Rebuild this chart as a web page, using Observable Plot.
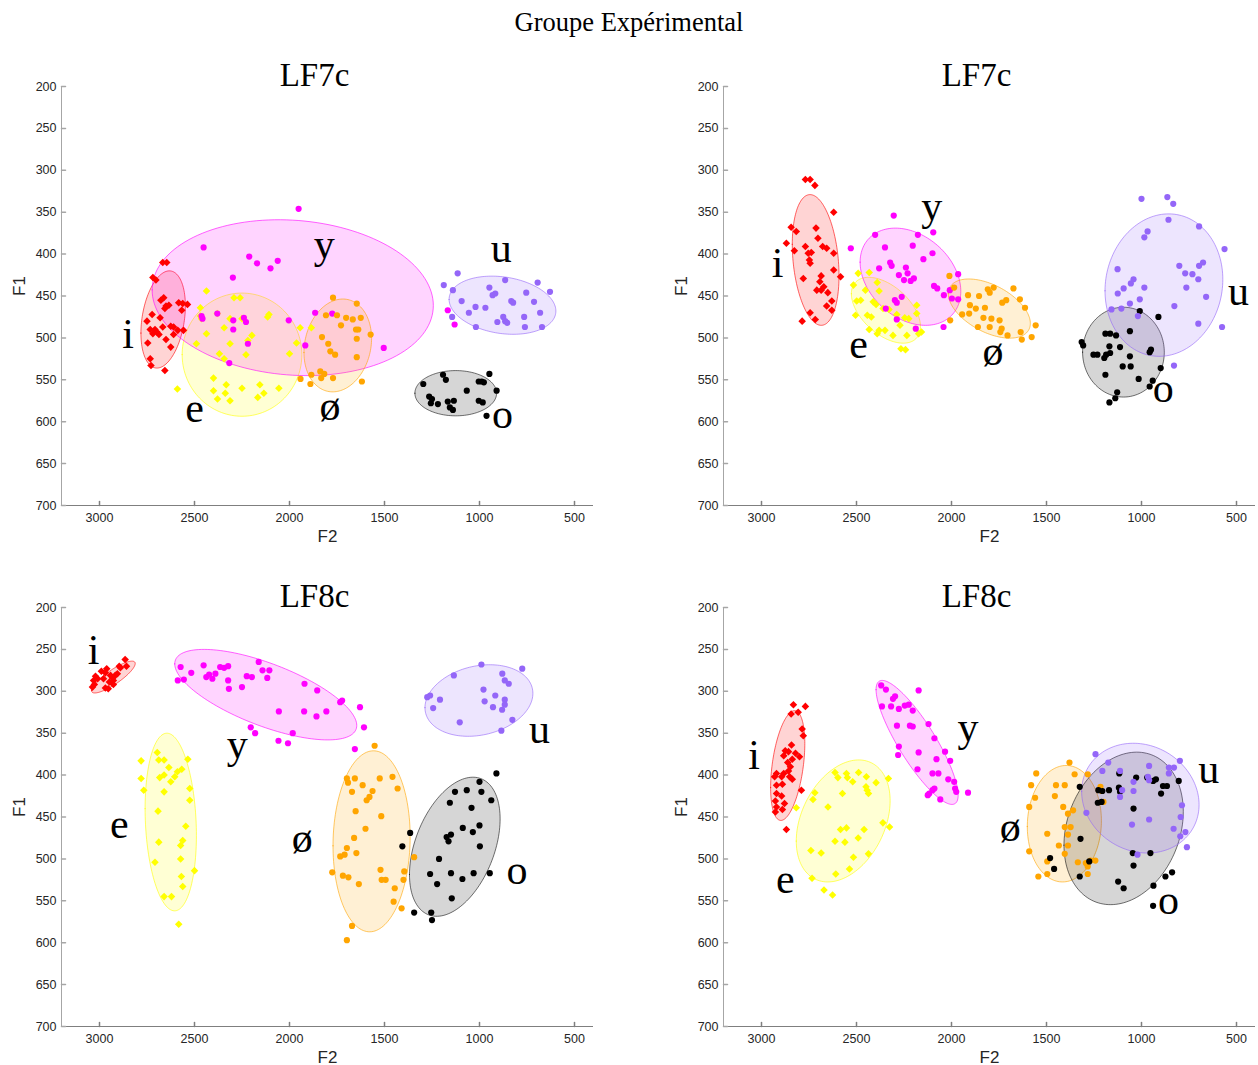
<!DOCTYPE html>
<html><head><meta charset="utf-8">
<script src="https://cdn.jsdelivr.net/npm/d3@7"></script>
<script src="https://cdn.jsdelivr.net/npm/@observablehq/plot@0.6"></script>
<style>
body{margin:0;background:#fff;width:1258px;height:1065px;overflow:hidden;position:relative;}
#title{position:absolute;left:0;width:1258px;top:9px;text-align:center;font-family:"Liberation Serif","Times New Roman",serif;font-size:26.5px;line-height:26px;color:#000;}
.panel{position:absolute;}
</style></head><body>
<div id="title">Groupe Expérimental</div>
<div class="panel" id="p1" style="left:0px;top:56px"></div>
<div class="panel" id="p2" style="left:662px;top:56px"></div>
<div class="panel" id="p3" style="left:0px;top:577px"></div>
<div class="panel" id="p4" style="left:662px;top:577px"></div>
<script>
// ---------- categories / styles ----------
const vowels = ["i", "e", "y", "ø", "o", "u"];
const vowelColors = ["#ff0000", "#ffff00", "#ff00ff", "#ffa500", "#000000", "#9466f8"];
const xTicks = [3000, 2500, 2000, 1500, 1000, 500];
const yTicks = [200, 250, 300, 350, 400, 450, 500, 550, 600, 650, 700];
const panelTitles = ["LF7c", "LF7c", "LF8c", "LF8c"];

// ---------- Panel 1 (LF7c, left) : [F2, F1] ----------
const p1_i = [[2719,428],[2703,431],[2667,410],[2646,410],[2677,455],[2662,452],[2650,462],[2635,461],[2656,465],[2583,458],[2562,459],[2537,460],[2567,467],[2723,472],[2681,476],[2750,480],[2625,486],[2610,487],[2667,487],[2698,493],[2719,495],[2733,490],[2746,506],[2708,490],[2687,496],[2650,502],[2588,491],[2558,491],[2610,496],[2625,511],[2733,525],[2729,533],[2656,539]];
const p1_e = [[2437,444],[2469,464],[2469,474],[2463,477],[2490,507],[2437,495],[2380,471],[2344,488],[2313,507],[2292,452],[2260,452],[2313,477],[2250,477],[2219,503],[2198,497],[2229,520],[2115,475],[2108,472],[1963,506],[2000,519],[2369,519],[2344,525],[2400,548],[2333,556],[2400,563],[2338,566],[2379,573],[2313,575],[2250,560],[2156,556],[2135,566],[2167,571],[2056,560],[2590,561],[1944,488],[1885,488]];
const p1_y = [[1952,346],[2452,392],[2212,403],[2171,411],[2100,417],[2062,408],[2298,428],[2463,474],[2458,477],[2380,471],[2296,479],[2240,476],[2229,481],[2296,490],[2219,507],[2317,530],[2004,479],[1865,470],[1775,471],[1917,509],[1504,512],[1167,467],[1131,484]];
const p1_oe = [[1771,452],[1808,473],[1750,473],[1702,476],[1667,478],[1625,476],[1650,490],[1638,490],[1646,459],[1573,496],[1829,499],[1796,507],[1785,516],[1760,520],[1729,485],[1646,501],[1646,523],[1885,544],[1838,540],[1817,543],[1771,548],[1833,548],[1942,549],[1890,555],[1619,552]];
const p1_o = [[1296,555],[1192,544],[1177,550],[948,543],[1004,552],[988,552],[977,553],[910,563],[1067,563],[1265,570],[1250,573],[1256,578],[1219,579],[1167,576],[1135,575],[1156,583],[1140,586],[1004,575],[983,577],[963,593]];
const p1_u = [[1115,423],[1188,437],[1140,443],[865,431],[694,434],[629,445],[948,440],[917,447],[931,449],[1094,456],[1021,463],[969,464],[1056,470],[833,456],[823,458],[754,446],[713,457],[765,475],[681,470],[875,475],[865,480],[906,481],[854,482],[1019,487],[761,487],[671,487],[1144,475]];
// ellipses: [vowel, centre F2, centre F1, half-extent F2, half-extent F1, correlation]
const p1_ellipses = [["i",2665,478,117,58,0.28],["e",2250,520,315,73.5,0],["y",1983,452,740,93,-0.1],["ø",1746,509,178,55.4,0.15],["o",1125,566,215,27,0],["u",879,461,281,34.7,-0.2]];
const p1_labels = [["i",2850,512.5],["e",2500,600],["y",1817,405],["ø",1787,598],["o",879,608],["u",886,410]];

// ---------- Panel 2 (LF7c, right) ----------
const p2_i = [[2769,311],[2744,311],[2719,318],[2844,368],[2869,387],[2817,373],[2827,396],[2713,369],[2769,391],[2754,399],[2738,398],[2748,407],[2744,411],[2703,381],[2678,391],[2657,393],[2620,350],[2620,399],[2620,419],[2584,427],[2780,429],[2686,426],[2693,433],[2709,443],[2686,443],[2672,439],[2651,446],[2630,456],[2657,462],[2630,467],[2744,470],[2717,478],[2786,480]];
const p2_e = [[2516,437],[2491,423],[2433,422],[2453,443],[2391,434],[2381,444],[2499,456],[2478,455],[2505,473],[2412,457],[2397,460],[2443,473],[2422,475],[2360,465],[2329,466],[2288,472],[2246,476],[2225,477],[2183,461],[2183,471],[2433,490],[2381,491],[2350,491],[2391,495],[2308,497],[2271,485],[2235,497],[2173,495],[2158,493],[2266,513],[2242,514]];
const p2_y = [[2304,354],[2402,377],[2177,377],[2096,374],[2350,392],[2204,390],[2100,399],[2148,406],[2323,410],[2315,414],[2381,417],[2240,416],[2231,423],[2277,425],[2198,429],[2250,431],[2215,432],[1965,424],[2092,438],[2075,441],[2040,449],[2009,443],[1998,453],[1965,454],[2298,455],[2288,458],[2262,451],[2346,465],[2288,478],[2188,489],[2042,487],[2530,393]];
const p2_oe = [[2011,426],[1986,440],[1913,449],[1855,450],[1903,461],[1872,465],[1907,471],[1944,472],[1824,464],[1809,442],[1799,446],[1778,440],[1674,441],[1712,455],[1640,454],[1613,464],[1733,458],[1832,476],[1790,477],[1861,487],[1799,487],[1747,479],[1736,489],[1743,493],[1705,497],[1636,493],[1630,502],[1578,499],[1557,485],[2007,479]];
const p2_o = [[1009,468],[911,475],[1315,505],[1307,509],[1190,495],[1165,495],[1134,497],[1061,492],[1169,510],[1113,511],[1253,520],[1232,520],[1186,520],[1165,518],[1196,524],[1061,522],[1099,534],[1057,534],[1190,544],[1015,549],[950,514],[957,517],[899,536],[941,551],[957,558],[1128,565],[1138,572],[1169,577]];
const p2_u = [[1000,334],[864,332],[833,340],[858,359],[968,373],[985,380],[697,367],[563,394],[1126,418],[801,414],[770,423],[732,424],[697,414],[676,410],[701,430],[764,440],[660,451],[1042,430],[1056,435],[1094,441],[1125,447],[985,440],[1009,454],[1019,474],[1158,466],[1106,465],[1061,459],[827,462],[701,483],[576,487],[829,533]];
const p2_ellipses = [["i",2715,407,123,78,-0.24],["e",2345,467,182,39.3,-0.5],["y",2216,427,265,58,-0.3],["ø",1801,465,216,35.3,-0.5],["o",1095,517,215,53.6,0],["u",882,437,310,85,0.08]];
const p2_labels = [["i",2915,427],["e",2489,524],["y",2104,359],["ø",1782,532],["o",885,577],["u",490,461]];

// ---------- Panel 3 (LF8c, left) ----------
const p3_i = [[3021,282],[3031,287],[3027,292],[3037,295],[2990,276],[2969,278],[2962,273],[2979,285],[2942,281],[2931,284],[2917,281],[2906,279],[2890,272],[2865,262],[2896,270],[2858,270],[2927,287],[2948,289],[2969,296],[2954,297],[2927,292],[3010,285]];
const p3_e = [[2781,383],[2781,404],[2767,418],[2696,373],[2688,382],[2660,382],[2635,391],[2683,403],[2660,400],[2660,420],[2625,408],[2604,402],[2590,396],[2567,393],[2535,381],[2525,416],[2525,430],[2546,461],[2692,443],[2688,480],[2562,478],[2708,504],[2573,484],[2573,500],[2569,521],[2562,533],[2500,514],[2660,545],[2621,545],[2583,578]];
const p3_y = [[2573,271],[2588,287],[2556,286],[2517,278],[2452,269],[2438,283],[2423,280],[2406,285],[2390,279],[2365,271],[2344,272],[2323,270],[2323,287],[2319,297],[2250,295],[2225,282],[2198,283],[2162,265],[2142,275],[2117,284],[2106,275],[2056,324],[1921,291],[1854,299],[1923,324],[1858,330],[1806,324],[1733,313],[1723,311],[1629,319],[1608,343],[2204,343],[2181,350],[1983,350],[2058,359],[2008,362],[1656,369]];
const p3_oe = [[1552,365],[1698,404],[1692,409],[1656,404],[1671,420],[1615,412],[1563,419],[1579,426],[1594,430],[1525,404],[1458,402],[1431,416],[1652,443],[1517,449],[1600,464],[1660,475],[1698,487],[1710,495],[1733,497],[1648,493],[1775,516],[1719,520],[1690,522],[1635,530],[1521,513],[1515,525],[1494,525],[1446,535],[1396,515],[1400,525],[1344,498],[1452,551],[1410,559],[1671,580],[1698,597]];
const p3_o = [[911,398],[1000,408],[1129,420],[1067,418],[990,420],[938,430],[1156,433],[1042,439],[1088,463],[1035,468],[1000,460],[1173,474],[1163,479],[1150,471],[1365,469],[1406,485],[1213,500],[998,485],[1260,518],[1150,517],[1031,517],[1223,530],[1090,524],[946,517],[1146,547],[1344,564],[1254,564],[1250,573]];
const p3_u = [[990,268],[1135,281],[880,279],[867,287],[846,291],[775,273],[979,298],[917,305],[973,312],[867,310],[867,316],[929,319],[881,322],[1275,307],[1260,305],[1208,310],[1244,320],[1104,337],[885,347],[827,334]];
const p3_ellipses = [["i",2927,283,115,19,0.85],["e",2625,456,135,106,-0.15],["y",2125,304,479,54,-0.68],["ø",1568,479,203,108,0.05],["o",1130,485.5,238.5,83,0.4],["u",1003,311,284,42.7,0.2]];
const p3_labels = [["i",3031,267.5],["e",2896,475],["y",2275,379],["ø",1933,492],["o",802,530],["u",684,362]];

// ---------- Panel 4 (LF8c, right) ----------
const p4_i = [[2832,316],[2769,318],[2807,325],[2844,327],[2786,345],[2780,353],[2842,364],[2875,371],[2883,377],[2858,372],[2821,374],[2800,378],[2838,381],[2862,385],[2848,390],[2858,395],[2883,398],[2921,398],[2931,402],[2894,402],[2852,402],[2838,405],[2890,411],[2921,412],[2921,422],[2894,425],[2790,418],[2927,431],[2879,434],[2921,438],[2890,441],[2927,444],[2869,465]];
const p4_e = [[2613,397],[2598,403],[2553,398],[2548,403],[2489,397],[2448,402],[2574,422],[2520,408],[2450,414],[2444,418],[2437,422],[2397,409],[2332,404],[2719,421],[2729,429],[2650,438],[2817,439],[2584,465],[2553,463],[2613,479],[2561,480],[2491,475],[2460,465],[2361,457],[2326,462],[2740,490],[2686,493],[2516,498],[2437,494],[2609,518],[2537,512],[2734,523],[2671,537],[2626,543]];
const p4_y = [[2370,293],[2345,298],[2366,318],[2318,318],[2308,309],[2297,306],[2277,321],[2287,341],[2246,317],[2225,316],[2204,323],[2219,341],[2204,342],[2173,299],[2277,366],[2281,376],[2173,373],[2121,339],[2090,356],[2079,381],[2034,372],[2007,383],[2179,393],[2100,398],[2069,398],[2017,405],[1986,408],[1981,416],[1975,420],[2100,418],[2117,422],[2125,424],[2059,429],[1913,421],[2090,416]];
const p4_oe = [[1554,398],[1581,412],[1560,427],[1591,438],[1450,412],[1456,425],[1404,412],[1379,385],[1352,399],[1412,438],[1387,446],[1360,442],[1283,399],[1216,414],[1210,419],[1200,432],[1496,470],[1404,462],[1373,462],[1387,471],[1435,484],[1387,484],[1404,494],[1591,491],[1496,503],[1335,504],[1293,505],[1283,509],[1268,502],[1243,502],[1496,518],[1543,521],[1283,518]];
const p4_o = [[1325,414],[1206,419],[1227,418],[1171,418],[1117,398],[1119,415],[1113,420],[1028,403],[970,403],[939,407],[924,405],[887,413],[866,413],[897,422],[804,407],[1042,440],[1230,433],[1210,432],[1321,476],[1481,499],[1460,512],[1325,521],[1275,503],[1046,493],[1042,508],[953,493],[1123,527],[1094,535],[937,532],[874,521],[839,516],[939,556]];
const p4_u = [[1242,375],[1175,385],[1206,395],[1113,395],[960,389],[856,391],[829,391],[798,383],[1042,408],[1042,419],[960,406],[966,402],[856,398],[1113,426],[1102,418],[1290,445],[1050,459],[960,453],[794,450],[787,436],[831,464],[769,468],[796,473],[761,486],[1021,495]];
const p4_ellipses = [["i",2862,388.6,90,65.5,0.4],["e",2570,454.7,247,72.8,0.33],["y",2181,361,216,74,-0.85],["ø",1406,458,195,69.5,0.05],["o",1094,463.6,314,91,0.22],["u",1006,427.5,309,65.5,-0.12]];
const p4_labels = [["i",3039,392.5],["e",2875,541],["y",1913,359],["ø",1691,479],["o",858,566],["u",646,410]];

// ---------- drawing ----------
const colorOf = Object.fromEntries(vowels.map((v, k) => [v, vowelColors[k]]));
const tickShape = {draw(context, l) { context.moveTo(0, 0); context.lineTo(0, -l); }};
const sans = "'Liberation Sans', Arial, sans-serif";
const serif = "'Liberation Serif', 'Times New Roman', serif";

function ellipseRing([v, cx, cy, sx, sy, rho]) {
  return d3.range(0, 145).map(k => {
    const t = (k / 144) * 2 * Math.PI;
    return {v, x: cx + sx * Math.cos(t), y: cy + sy * (rho * Math.cos(t) + Math.sqrt(1 - rho * rho) * Math.sin(t))};
  });
}

function panel(title, groups, ellipses, labels, width) {
  const marks = [];
  for (const e of ellipses) {
    const col = colorOf[e[0]];
    marks.push(Plot.line(ellipseRing(e), {x: "x", y: "y", curve: "linear-closed",
      fill: col, fillOpacity: e[0] === "o" ? 0.16 : 0.17, stroke: col, strokeOpacity: e[0] === "o" ? 0.55 : 0.6, strokeWidth: 1}));
  }
  groups.forEach((pts, k) => {
    const v = vowels[k];
    const diamond = v === "i" || v === "e";
    marks.push(Plot.dot(pts, {x: d => d[0], y: d => d[1], fill: colorOf[v], stroke: "none",
      r: diamond ? 3.4 : 3.1, symbol: diamond ? "diamond2" : "circle"}));
  });
  marks.push(
    Plot.text(labels, {x: d => d[1], y: d => d[2], text: d => d[0], fontFamily: serif, fontSize: 42,
      textAnchor: "middle", lineAnchor: "bottom", fill: "#000"}),
    Plot.ruleX([3200], {y1: 200, y2: 700, stroke: "#a6a6a6"}),
    Plot.ruleY([700], {x1: 3200, x2: 400, stroke: "#7f7f7f"}),
    Plot.vector(xTicks, {x: d => d, y: () => 700, rotate: 0, length: 4, anchor: "start", shape: tickShape, stroke: "#7f7f7f"}),
    Plot.vector(yTicks, {x: () => 3200, y: d => d, rotate: 90, length: 4, anchor: "start", shape: tickShape, stroke: "#a6a6a6"}),
    Plot.axisX(xTicks, {tickSize: 0, tickPadding: 7.5, tickFormat: "d", fontSize: 12.5, fontFamily: sans, color: "#262626", label: null}),
    Plot.axisY(yTicks, {tickSize: 0, tickPadding: 5, tickFormat: "d", fontSize: 12.5, fontFamily: sans, color: "#262626", label: null}),
    Plot.text(["F2"], {frameAnchor: "bottom", dy: 31, lineAnchor: "middle", fontSize: 17, fontFamily: sans, fill: "#262626"}),
    Plot.text(["F1"], {frameAnchor: "left", dx: -42, rotate: -90, lineAnchor: "middle", fontSize: 17, fontFamily: sans, fill: "#262626"}),
    Plot.text([title], {frameAnchor: "top", dx: -13, dy: -1, lineAnchor: "bottom", fontSize: 33, fontFamily: serif, fill: "#000"})
  );
  return Plot.plot({
    width, height: 494,
    marginLeft: 61, marginRight: width - 61 - 532, marginTop: 30, marginBottom: 45,
    x: {domain: [3200, 400]},
    y: {domain: [700, 200]},
    style: {background: "transparent", overflow: "visible"},
    marks
  });
}

document.getElementById("p1").append(panel(panelTitles[0], [p1_i, p1_e, p1_y, p1_oe, p1_o, p1_u], p1_ellipses, p1_labels, 600));
document.getElementById("p2").append(panel(panelTitles[1], [p2_i, p2_e, p2_y, p2_oe, p2_o, p2_u], p2_ellipses, p2_labels, 596));
document.getElementById("p3").append(panel(panelTitles[2], [p3_i, p3_e, p3_y, p3_oe, p3_o, p3_u], p3_ellipses, p3_labels, 600));
document.getElementById("p4").append(panel(panelTitles[3], [p4_i, p4_e, p4_y, p4_oe, p4_o, p4_u], p4_ellipses, p4_labels, 596));
</script>
</body></html>
